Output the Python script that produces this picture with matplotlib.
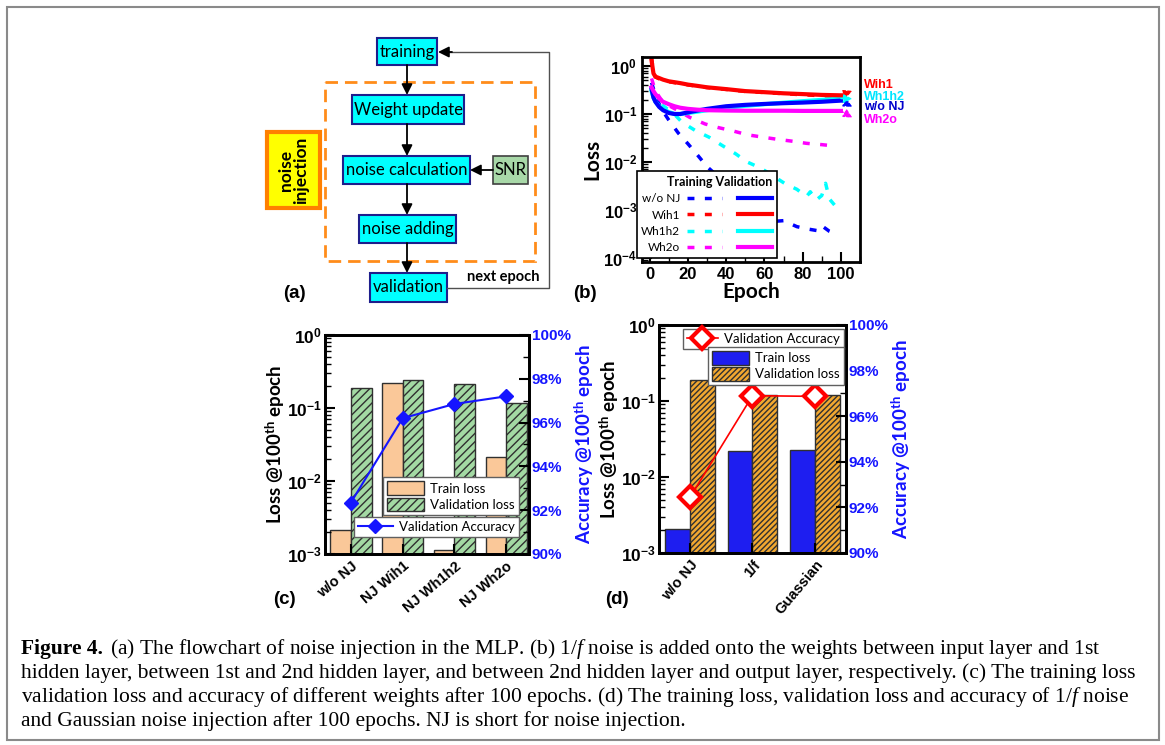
import numpy as np
import matplotlib
matplotlib.use('Agg')
import matplotlib.pyplot as plt
from matplotlib.patches import Rectangle
from matplotlib.legend_handler import HandlerTuple
from matplotlib.ticker import LogLocator, NullFormatter, FuncFormatter, MultipleLocator

plt.rcParams['font.family'] = ['Liberation Sans', 'DejaVu Sans']
plt.rcParams['font.weight'] = 'bold'
plt.rcParams['axes.labelweight'] = 'bold'
plt.rcParams['mathtext.fontset'] = 'custom'
plt.rcParams['mathtext.rm'] = 'Liberation Sans:bold'
plt.rcParams['mathtext.sf'] = 'Lato:bold'
plt.rcParams['mathtext.it'] = 'Liberation Serif:style=italic:weight=normal'
plt.rcParams['hatch.linewidth'] = 1.0

# ---- panel (b): loss vs epoch ----
names_b = ['w/o NJ', 'Wih1', 'Wh1h2', 'Wh2o']
colors_b = ['#0000FF', '#FF0000', '#00FFFF', '#FF00FF']

ep_val = [1, 2, 3, 5, 7, 10, 13, 16, 20, 25, 30, 40, 50, 60, 70, 80, 90, 100]
val_wonj = [0.33, 0.22, 0.18, 0.14, 0.12, 0.105, 0.1, 0.1, 0.108, 0.118, 0.128, 0.145,
            0.155, 0.162, 0.168, 0.173, 0.18, 0.19]
val_wih1 = [1.3, 0.7, 0.6, 0.56, 0.52, 0.48, 0.46, 0.44, 0.41, 0.385, 0.36, 0.33,
            0.30, 0.285, 0.27, 0.26, 0.25, 0.245]
val_wh1h2 = [0.3, 0.22, 0.18, 0.145, 0.125, 0.11, 0.1, 0.1, 0.105, 0.112, 0.12, 0.135,
             0.148, 0.16, 0.172, 0.185, 0.197, 0.21]
val_wh2o = [0.36, 0.3, 0.26, 0.21, 0.18, 0.16, 0.145, 0.135, 0.128, 0.123, 0.12, 0.118,
            0.117, 0.117, 0.117, 0.116, 0.116, 0.116]

ep_tr_wonj = [1, 3, 6, 10, 15, 20, 25, 30, 40, 50, 60, 65, 70, 77, 83, 88, 90, 94, 98]
tr_wonj = [0.45, 0.25, 0.13, 0.075, 0.04, 0.024, 0.014, 0.008, 0.0035, 0.0015, 0.0008,
           0.00058, 0.0006, 0.00045, 0.0004, 0.00037, 0.00047, 0.00036, 0.00031]
ep_tr_wih1 = [1, 2, 3, 5, 10, 20, 30, 40, 50, 60, 70, 80, 90, 100]
tr_wih1 = [1.5, 0.75, 0.59, 0.54, 0.47, 0.405, 0.355, 0.325, 0.295, 0.28, 0.265, 0.252,
           0.24, 0.232]
ep_tr_wh1h2 = [1, 3, 6, 9, 12, 17, 24, 31, 38, 45, 51, 58, 65, 71, 77, 82, 84, 87, 90,
               92, 94, 98]
tr_wh1h2 = [0.3, 0.22, 0.16, 0.13, 0.108, 0.067, 0.045, 0.033, 0.022, 0.0148, 0.01,
            0.0075, 0.005, 0.0035, 0.0027, 0.0019, 0.0024, 0.0016, 0.002, 0.0036,
            0.0017, 0.0011]
ep_tr_wh2o = [1, 3, 6, 10, 15, 21, 29, 36, 43, 51, 59, 66, 75, 82, 90, 98]
tr_wh2o = [0.55, 0.3, 0.2, 0.15, 0.117, 0.085, 0.062, 0.052, 0.045, 0.037, 0.033, 0.030,
           0.027, 0.0245, 0.023, 0.0213]

# ---- panel (c) ----
cats_c = ['w/o NJ', 'NJ Wih1', 'NJ Wh1h2', 'NJ Wh2o']
train_c = [2.1e-3, 0.22, 1.15e-3, 0.021]
valid_c = [0.19, 0.24, 0.215, 0.117]
acc_c = [92.35, 96.2, 96.85, 97.2]

# ---- panel (d) ----
cats_d = ['w/o NJ', '1/f', 'Guassian']
train_d = [2.1e-3, 0.022, 0.0226]
valid_d = [0.19, 0.12, 0.12]
acc_d = [92.45, 96.9, 96.87]

caption = [
    "hidden layer, between 1st and 2nd hidden layer, and between 2nd hidden layer and output layer, respectively. (c) The training loss",
    "validation loss and accuracy of different weights after 100 epochs. (d) The training loss, validation loss and accuracy of 1/$f$ noise",
    "and Gaussian noise injection after 100 epochs. NJ is short for noise injection.",
]
caption_first = "(a) The flowchart of noise injection in the MLP. (b) 1/$f$ noise is added onto the weights between input layer and 1st"

W, H = 1165, 745
fig = plt.figure(figsize=(W / 100, H / 100), dpi=100)


def px_rect(l, t, r, b):
    return [l / W, 1 - b / H, (r - l) / W, (b - t) / H]


# overlay for flowchart, labels, caption
fa = fig.add_axes([0, 0, 1, 1])
fa.set_xlim(0, W)
fa.set_ylim(H, 0)
fa.axis('off')

fa.add_patch(Rectangle((7, 7), 1152, 733, fill=False, ec='#8a8a8a', lw=1.5))

# ---- (a) flowchart ----
steps = ['training', 'Weight update', 'noise calculation', 'noise adding', 'validation']
boxes = [(377, 38, 437, 65), (352, 95, 464, 124), (343, 156, 470, 184),
         (359, 215, 456, 243), (370, 273, 447, 302)]
fa.add_patch(Rectangle((325, 82), 210, 179, fill=False, ec='#FF8C1A', lw=2,
                       ls=(0, (4.5, 2.5))))
for s, (x0, y0, x1, y1) in zip(steps, boxes):
    fa.add_patch(Rectangle((x0, y0), x1 - x0, y1 - y0, fc='#00FFFF', ec='#1E1E8C', lw=1.5))
    fa.text((x0 + x1) / 2, (y0 + y1) / 2, s, ha='center', va='center', fontsize=12,
            family='Lato', weight='normal')
for (a, b) in zip(boxes[:-1], boxes[1:]):
    fa.annotate('', xy=(407, b[1]), xytext=(407, a[3]),
                arrowprops=dict(arrowstyle='-|>', color='k', lw=1.3, mutation_scale=16,
                                shrinkA=0, shrinkB=0))
fa.add_patch(Rectangle((493, 156), 35, 28, fc='#A8D8A8', ec='#404040', lw=1.2))
fa.text(510.5, 170, 'SNR', ha='center', va='center', fontsize=12, family='Lato',
        weight='normal')
fa.annotate('', xy=(470, 170), xytext=(493, 170),
            arrowprops=dict(arrowstyle='-|>', color='k', lw=1.3, mutation_scale=16,
                            shrinkA=0, shrinkB=0))
fa.add_patch(Rectangle((267, 132), 53, 76, fc='#FFFF00', ec='#FF8000', lw=3))
fa.text(293.5, 170, 'noise\ninjection', ha='center', va='center', rotation=90,
        fontsize=12.5, family='Lato', weight='bold', linespacing=1.0)
fa.plot([447, 549, 549, 445], [288, 288, 52, 52], color='#505050', lw=1)
fa.annotate('', xy=(438, 52), xytext=(452, 52),
            arrowprops=dict(arrowstyle='-|>', color='k', lw=1.3, mutation_scale=16,
                            shrinkA=0, shrinkB=0))
fa.text(503, 277, 'next epoch', ha='center', va='center', fontsize=10.5, family='Lato',
        weight='bold')

for lab, x, y in [('(a)', 294, 294), ('(b)', 585, 294), ('(c)', 284, 600), ('(d)', 617, 600)]:
    fa.text(x, y, lab, ha='center', va='center', fontsize=13.5)

# caption
cap_fs = 15.5
fa.text(21, 649, 'Figure 4.', family='Liberation Serif', weight='bold', fontsize=cap_fs,
        va='center')
fa.text(110, 649, caption_first, family='Liberation Serif', weight='normal',
        fontsize=cap_fs, va='center')
for i, line in enumerate(caption):
    fa.text(21, 673 + 24 * i, line, family='Liberation Serif', weight='normal',
            fontsize=cap_fs, va='center')


def frame(ax):
    for sp in ax.spines.values():
        sp.set_linewidth(2)
    ax.tick_params(which='major', direction='in', length=7, width=1.5)
    ax.tick_params(which='minor', direction='in', length=4, width=1)


# ---- (b) ----
axb = fig.add_axes(px_rect(642, 57, 860, 262))
axb.set_yscale('log')
val_b = [val_wonj, val_wih1, val_wh1h2, val_wh2o]
tr_b = [(ep_tr_wonj, tr_wonj), (ep_tr_wih1, tr_wih1), (ep_tr_wh1h2, tr_wh1h2),
        (ep_tr_wh2o, tr_wh2o)]
tr_lines, val_lines = [], []
for (ex, ty), c in zip(tr_b, colors_b):
    l, = axb.plot(ex, ty, color=c, lw=2.5, ls=(0, (2, 3)))
    tr_lines.append(l)
for order in [2, 0, 3, 1]:
    l, = axb.plot(ep_val, val_b[order], color=colors_b[order], lw=3)
    val_lines.append((order, l))
val_lines = [l for _, l in sorted(val_lines)]
axb.set_xlim(-4, 110)
axb.set_ylim(8.26e-5, 1.54)
axb.xaxis.set_major_locator(MultipleLocator(20))
axb.xaxis.set_minor_locator(MultipleLocator(10))
axb.yaxis.set_major_locator(LogLocator(base=10, numticks=10))
axb.yaxis.set_minor_locator(LogLocator(base=10, subs=np.arange(2, 10), numticks=10))
axb.yaxis.set_minor_formatter(NullFormatter())
frame(axb)
axb.tick_params(labelsize=12)
axb.set_xlabel('Epoch', family='Lato', fontsize=15, labelpad=0)
axb.set_ylabel('Loss', family='Lato', fontsize=15, labelpad=1)
leg = axb.legend([(t, v) for t, v in zip(tr_lines, val_lines)], names_b,
                 handler_map={tuple: HandlerTuple(ndivide=None, pad=1.3)},
                 markerfirst=False, title='Training Validation', alignment='right',
                 loc='lower left', bbox_to_anchor=(-0.025, 0.02), borderaxespad=0,
                 handlelength=7.2, fancybox=False, edgecolor='k', framealpha=1,
                 prop={'family': 'Lato', 'weight': 'normal', 'size': 8.5},
                 title_fontproperties={'family': 'Lato', 'weight': 'bold', 'size': 9},
                 borderpad=0.4, handletextpad=0.6, labelspacing=0.45)
leg.get_frame().set_linewidth(1.2)

# arrows and labels on the right of (b)
label_y = [0.139, 0.41, 0.226, 0.074]
head_y = [0.141, 0.303, 0.207, 0.084]
label_c = ['#0000CC', '#FF0000', '#00E5FF', '#FF00FF']
for i in range(4):
    axb.annotate('', xy=(106, head_y[i]), xytext=(100, val_b[i][-1]),
                 arrowprops=dict(arrowstyle='-|>', color=colors_b[i], lw=1,
                                 ls=(0, (2, 1.5)), mutation_scale=13, shrinkA=0, shrinkB=0),
                 annotation_clip=False)
    axb.text(112, label_y[i], names_b[i], color=label_c[i], fontsize=9, va='center',
             clip_on=False)


def bar_panel(rect, cats, train, valid, acc, tc, vc, vhatch, rot):
    ax = fig.add_axes(px_rect(*rect))
    ax.set_yscale('log')
    x = np.arange(len(cats))
    b1 = ax.bar(x - 0.2, train, 0.4, color=tc, edgecolor='#303030', lw=1)
    b2 = ax.bar(x + 0.2, valid, 0.4, color=vc, edgecolor='#303030', lw=1, hatch=vhatch)
    ax.set_ylim(1e-3, 1)
    ax.yaxis.set_major_locator(LogLocator(base=10, numticks=10))
    ax.yaxis.set_minor_locator(LogLocator(base=10, subs=np.arange(2, 10), numticks=10))
    ax.yaxis.set_minor_formatter(NullFormatter())
    ax.set_xticks(x)
    ax.set_xticklabels(cats, rotation=rot, ha='right', rotation_mode='anchor', fontsize=10.5)
    frame(ax)
    ax.tick_params(axis='y', labelsize=12.5, pad=2)
    ax.set_ylabel('Loss @100$^{\\mathsf{th}}$ epoch', family='Lato', fontsize=13.5,
                  labelpad=0)
    ax2 = ax.twinx()
    ax2.set_ylim(90, 100)
    ax2.yaxis.set_major_locator(MultipleLocator(2))
    ax2.yaxis.set_minor_locator(MultipleLocator(1))
    ax2.yaxis.set_major_formatter(FuncFormatter(lambda v, p: f'{v:.0f}%'))
    frame(ax2)
    ax2.tick_params(axis='y', labelsize=11, labelcolor='#1515FF', pad=2)
    ax2.set_ylabel('Accuracy @100$^{\\mathsf{th}}$ epoch', family='Lato', fontsize=13.5,
                   color='#1515FF', labelpad=1)
    return ax, ax2, x, b1, b2


# ---- (c) ----
axc, axc2, xc, bc1, bc2 = bar_panel((325, 335, 529, 554), cats_c, train_c, valid_c, acc_c,
                                    '#FAC899', '#A3D9A3', '////', 40)
axc.set_xlim(-0.5, 3.44)
lc, = axc2.plot(xc, acc_c, color='#1515FF', lw=1.5, marker='D', ms=7)
lp = {'family': 'Lato', 'weight': 'normal', 'size': 9.5}
legc1 = axc2.legend([bc1, bc2], ['Train loss', 'Validation loss'], loc='lower right',
                    bbox_to_anchor=(0.951, 0.178), borderaxespad=0, prop=lp,
                    fancybox=False, edgecolor='#606060', framealpha=1, handlelength=2.8,
                    handleheight=1.2, borderpad=0.3, labelspacing=0.2, handletextpad=0.5)
axc2.add_artist(legc1)
axc2.legend([lc], ['Validation Accuracy'], loc='lower right', bbox_to_anchor=(0.951, 0.078),
            borderaxespad=0, prop=lp, fancybox=False, edgecolor='#606060', framealpha=1,
            handlelength=2.6, borderpad=0.3, handletextpad=0.5)

# ---- (d) ----
axd, axd2, xd, bd1, bd2 = bar_panel((659, 325, 846, 553), cats_d, train_d, valid_d, acc_d,
                                    '#1E1EF0', '#F2A830', '//////', 50)
axd.set_xlim(-0.5, 2.5)
ld, = axd2.plot(xd, acc_d, color='#FF0000', lw=1.2, marker='D', ms=11, mfc='white',
                mec='#FF0000', mew=3)
legd1 = axd2.legend([ld], ['Validation Accuracy'], loc='upper right',
                    bbox_to_anchor=(0.989, 0.982), borderaxespad=0, prop=lp,
                    fancybox=False, edgecolor='#606060', framealpha=1, handlelength=2.3,
                    borderpad=0.3, handletextpad=0.5)
axd2.add_artist(legd1)
axd2.legend([bd1, bd2], ['Train loss', 'Validation loss'], loc='upper right',
            bbox_to_anchor=(0.989, 0.903), borderaxespad=0, prop=lp, fancybox=False,
            edgecolor='#606060', framealpha=1, handlelength=2.8, handleheight=1.2,
            borderpad=0.3, labelspacing=0.2, handletextpad=0.5)

fig.savefig('out.png', dpi=100)
